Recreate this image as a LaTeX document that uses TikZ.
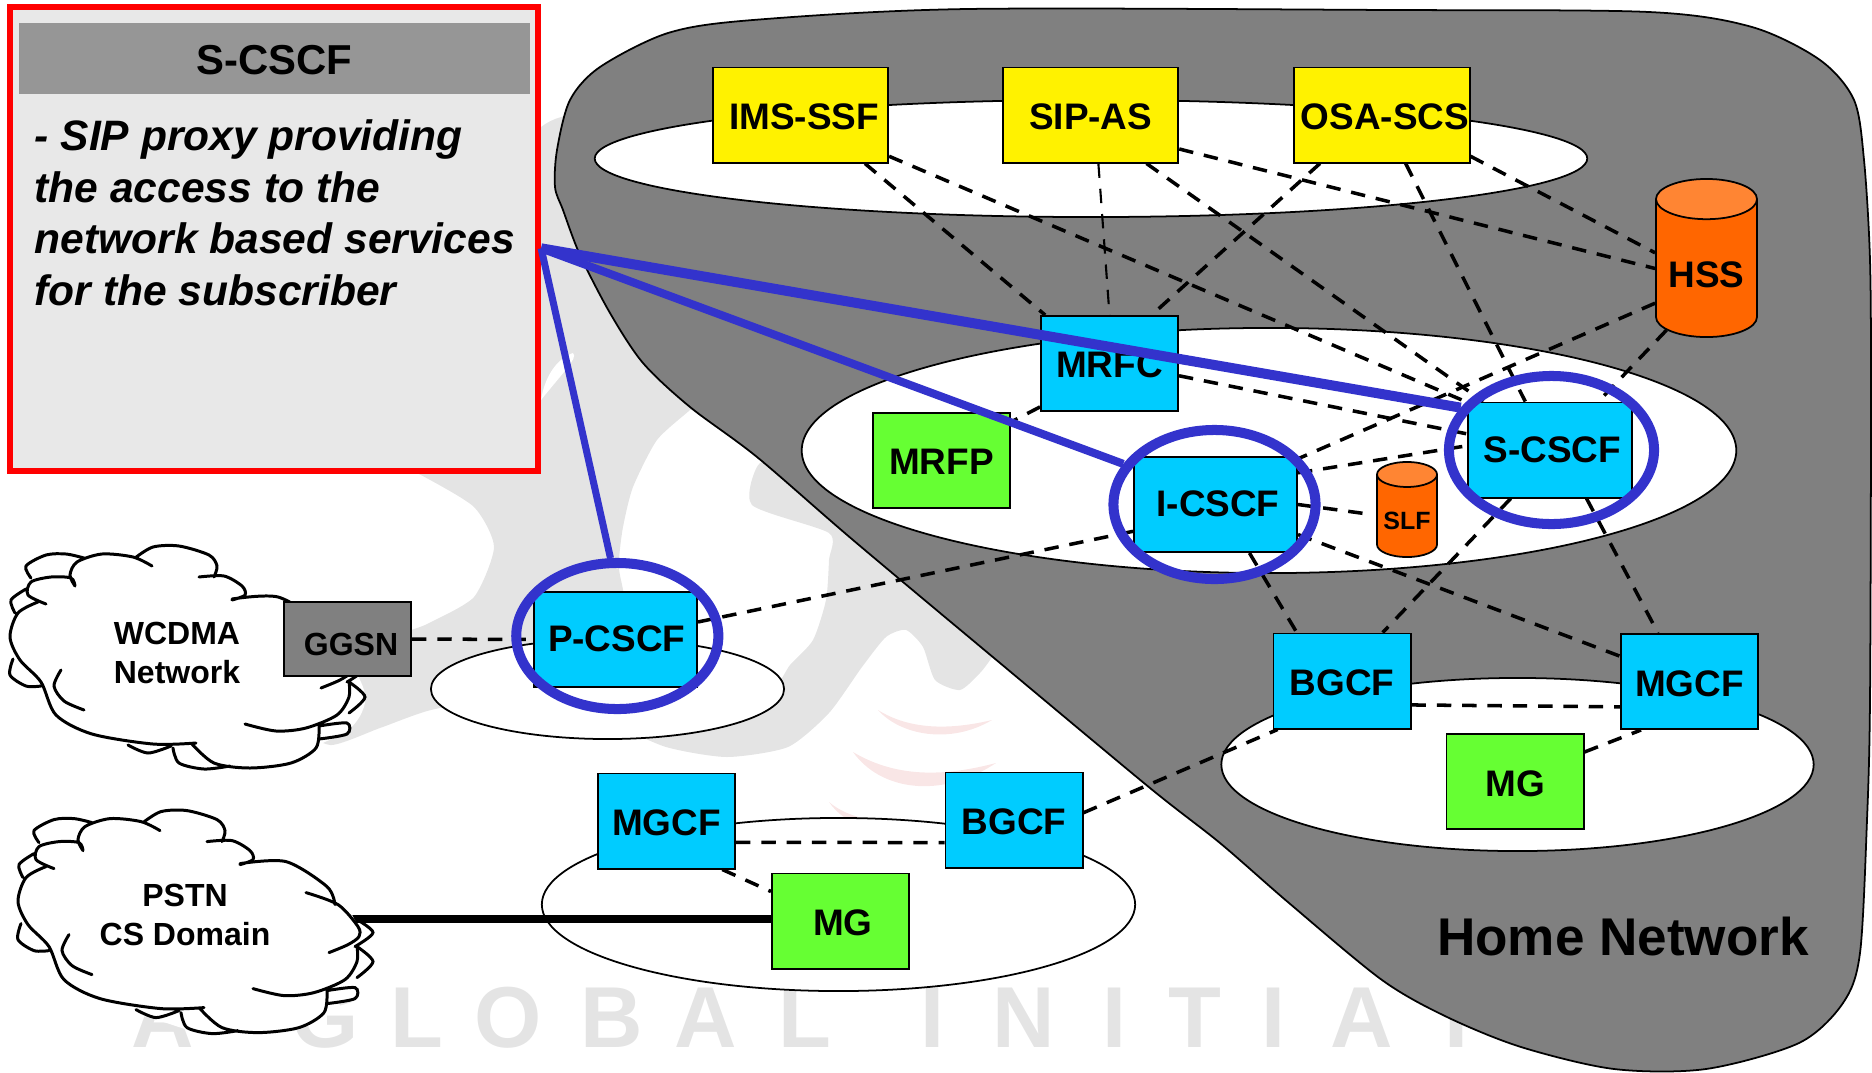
\documentclass[tikz,border=0pt]{standalone}
\usepackage{fontspec}
\setmainfont{Liberation Sans}
\usetikzlibrary{shapes.geometric}
\usetikzlibrary{calc}
\definecolor{homegray}{HTML}{808080}
\definecolor{markgray}{HTML}{E4E4E4}
\definecolor{markpink}{HTML}{F9E6E6}
\definecolor{cscfcyan}{HTML}{00CCFF}
\definecolor{mggreen}{HTML}{66FF33}
\definecolor{hssorange}{HTML}{FF6600}
\definecolor{hsstop}{HTML}{FF8533}
\definecolor{ringblue}{HTML}{3333CC}
\definecolor{notegray}{HTML}{E8E8E8}
\definecolor{titlegray}{HTML}{969696}
\tikzset{
	nfbox/.style={draw=black,line width=0.55pt,inner sep=0pt,minimum width=1.37cm,minimum height=0.95cm,text height=8.6pt,font=\fontsize{10.5}{12}\selectfont\bfseries},
	cscfbox/.style={nfbox,fill=cscfcyan},
	widebox/.style={cscfbox,minimum width=1.63cm,text height=7.2pt},
	asbox/.style={nfbox,fill=yellow,minimum width=1.75cm},
	mgbox/.style={nfbox,fill=mggreen},
	netzone/.style={draw=black,line width=0.5pt,fill=white,shape=ellipse,inner sep=0pt},
	ring/.style={draw=ringblue,line width=2.85pt,shape=ellipse,inner sep=0pt,minimum width=2.02cm,minimum height=1.49cm},
	dashline/.style={line width=1pt,dash pattern=on 4.1pt off 3.1pt},
	dbstore/.style={draw=black,line width=0.5pt,shape=cylinder,shape border rotate=90,anchor=shape center,inner sep=0pt,cylinder uses custom fill,cylinder body fill=hssorange,cylinder end fill=hsstop,font=\bfseries},
	cloudtext/.style={align=center,inner sep=0pt,font=\fontsize{9.1}{11}\selectfont\bfseries},
	marktext/.style={text=markgray,inner sep=0pt,font=\fontsize{24.6}{28}\selectfont\bfseries},
	netcloud/.pic={
		\fill[white] plot[smooth cycle,tension=0.6] coordinates {(10,637) (11,600) (26,566) (66,552) (102,552) (153,545) (209,553) (245,590) (286,600) (327,622) (346,654) (364,690) (362,712) (346,732) (319,745) (291,765) (250,770) (204,771) (148,755) (92,736) (41,690) (10,675)};
		\draw[line width=0.85pt,line cap=round]
			plot[smooth] coordinates {(38,602) (18,613) (10,637) (20,660) (41,682) (56,715) (92,734) (153,744) (196,743)}
			plot[smooth] coordinates {(13,659) (10,675) (26,686) (41,686)}
			plot[smooth] coordinates {(61,670) (54,686) (64,701) (84,710)}
			plot[smooth] coordinates {(26,589) (11,600) (15,613)}
			plot[smooth] coordinates {(46,604) (28,595) (31,582) (51,577) (71,578) (75,586)}
			plot[smooth] coordinates {(31,578) (26,566) (46,555) (66,554) (84,558)}
			plot[smooth] coordinates {(75,586) (70,575) (77,562) (102,554) (133,557) (152,566)}
			plot[smooth] coordinates {(135,558) (153,547) (179,546) (209,555) (217,566) (214,577)}
			plot[smooth] coordinates {(199,577) (224,576) (242,586) (245,595) (232,600)}
			plot[smooth] coordinates {(232,599) (278,597) (319,622) (327,640)}
			plot[smooth] coordinates {(298,628) (330,640) (350,662) (351,672) (340,680) (321,688)}
			plot[smooth] coordinates {(349,655) (365,668) (347,682)}
			plot[smooth] coordinates {(349,682) (365,697) (349,713)}
			plot[smooth] coordinates {(349,682) (349,697) (337,715) (306,728) (276,731) (245,724)}
			plot[smooth] coordinates {(319,726) (347,723) (347,734) (319,739)}
			plot[smooth] coordinates {(319,726) (316,748) (291,763) (250,768) (214,763) (191,743)}
			plot[smooth] coordinates {(173,748) (179,763) (204,769) (230,766)}
			plot[smooth] coordinates {(128,745) (148,753) (171,746)};
	}
}

\begin{document}
\begin{tikzpicture}[x=0.01cm,y=-0.01cm]
	\useasboundingbox (0,0) rectangle (1872,1072);
	\fill[markgray] plot[smooth cycle,tension=0.4] coordinates {(541,127) (620,127) (700,250) (700,400) (690,410) (657,440) (633,487) (623,527) (619,560) (621,580) (640,650) (700,700) (770,690) (790,665) (813,640) (826,600) (829,560) (829,533) (752,505) (760,463) (800,470) (900,520) (1000,640) (992,657) (980,673) (960,690) (935,680) (923,647) (906,630) (886,637) (862,667) (829,713) (788,747) (727,757) (666,747) (600,720) (500,700) (431,710) (380,728) (330,745) (300,720) (350,650) (411,630) (429,623) (474,597) (494,547) (474,507) (421,475) (380,455) (400,300)};
	\fill[white] (541,400) .. controls (545,375) and (558,358) .. (573,353) .. controls (578,358) and (565,370) .. (541,400);
	\fill[markpink] (878,710) .. controls (900,735) and (950,745) .. (992,720) .. controls (950,730) and (910,730) .. (878,710);
	\fill[markpink] (853,752) .. controls (880,790) and (940,800) .. (996,763) .. controls (950,775) and (900,780) .. (853,752);
	\fill[markpink] (829,802) .. controls (845,825) and (870,830) .. (900,830) .. controls (880,820) and (850,820) .. (829,802);
	\foreach \markch/\markx in {A/163,G/325,L/417,O/508,B/612,A/706,L/805,I/933,N/1024,I/1115,T/1195,I/1274,A/1362,I/1457}
		\node[marktext] (mark\markx) at (\markx,1018) {\markch};
	\draw[line width=0.5pt,fill=homegray] plot[smooth cycle,tension=0.5] coordinates {(555,187) (557,150) (570,100) (600,67) (668,33) (753,20) (967,9) (1393,10) (1649,12) (1752,27) (1820,60) (1854,100) (1864,160) (1870,260) (1871,400) (1870,700) (1867,820) (1860,953) (1843,1003) (1799,1043) (1706,1069) (1614,1069) (1521,1047) (1447,1017) (1382,980) (1289,903) (1220,843) (1150,788) (1000,663) (853,540) (757,457) (690,407) (643,363) (610,313) (580,255) (563,210)};
	\node[netzone,minimum width=9.92cm,minimum height=1.17cm] (aszone) at (1091,158.5) {};
	\node[netzone,minimum width=9.34cm,minimum height=2.45cm] (imszone) at (1269,450.5) {};
	\node[netzone,minimum width=5.92cm,minimum height=1.73cm] (gwzone) at (1517.5,764.5) {};
	\node[netzone,minimum width=5.93cm,minimum height=1.73cm] (pstnzone) at (838.5,904.5) {};
	\node[netzone,minimum width=3.53cm,minimum height=1cm] (visitzone) at (607.5,689) {};
	\coordinate (pstnedge) at (340,918.6);
	\draw[line width=2.3pt] (pstnedge) -- (840.5,918.6);
	\pic at (0,0) {netcloud};
	\pic at (8,264.6) {netcloud};
	\node[cloudtext] (wcdma) at (177,653) {WCDMA\\Network};
	\node[cloudtext] (pstn) at (185,915) {PSTN\\CS Domain};
	\node[asbox] (imsssf) at (800.6,115) {\hspace*{2pt}IMS-SSF};
	\node[asbox] (sipas) at (1090.7,115) {SIP-AS};
	\node[asbox] (osascs) at (1382,115) {\hspace*{1.6pt}OSA-SCS};
	\node[cscfbox,text height=8pt] (mrfc) at (1109.5,363.5) {MRFC};
	\node[mgbox,text height=8pt,fill=mggreen] (mrfp) at (941.5,460.5) {MRFP};
	\node[widebox] (icscf) at (1215.5,504.5) {\hspace*{1.4pt}I-CSCF};
	\node[widebox] (scscf) at (1550,450) {\hspace*{1.4pt}S-CSCF};
	\node[widebox] (pcscf) at (615.5,639.5) {\hspace*{0.7pt}P-CSCF};
	\node[cscfbox] (bgcfhome) at (1342,681) {BGCF};
	\node[cscfbox] (mgcfhome) at (1689.5,681.5) {MGCF};
	\node[mgbox] (mghome) at (1515,781.5) {MG};
	\node[cscfbox] (mgcfpstn) at (666.5,821) {MGCF};
	\node[cscfbox] (bgcfpstn) at (1014,820) {BGCF};
	\node[mgbox] (mgpstn) at (840.5,921) {\hspace*{1.4pt}MG};
	\node[dbstore,minimum width=1.01cm,minimum height=1.58cm,shape aspect=0.53,text height=10.9pt,font=\fontsize{10.5}{12}\selectfont\bfseries] (hss) at (1706.5,258) {HSS};
	\node[dbstore,minimum width=0.6cm,minimum height=0.95cm,shape aspect=0.53,text height=7.8pt,font=\fontsize{7.1}{8}\selectfont\bfseries] (slf) at (1407,509.5) {SLF};
	\node[draw=black,line width=0.55pt,fill=homegray,inner sep=0pt,minimum width=1.27cm,minimum height=0.74cm,text height=9.2pt,font=\fontsize{9.1}{11}\selectfont\bfseries] (ggsn) at (347.5,639) {\hspace*{2pt}GGSN};
	\draw[dashline] (imsssf.-37.7) -- (mrfc.143.6);
	\draw[dashline] (imsssf.-25.5) -- (scscf.150.7);
	\draw[dashline,line width=0.6pt] (sipas.-81) -- (mrfc.90);
	\draw[dashline] (sipas.-41.6) -- (scscf.144);
	\draw[dashline] (sipas.-21.6) -- (hss.180);
	\draw[dashline] (osascs.-142.5) -- (mrfc.49.5);
	\draw[dashline] (osascs.-64.9) -- (scscf.117.5);
	\draw[dashline] (osascs.-25.9) -- (hss.163);
	\draw[dashline] (hss.-146) -- (icscf.29.7);
	\draw[dashline] (hss.-123.4) -- (scscf.45.6);
	\draw[dashline] (mrfc.-10.3) -- (scscf.169.6);
	\draw[dashline] (mrfc.-148.8) -- (mrfp.29.3);
	\draw[dashline] (icscf.21.1) -- (scscf.177.2);
	\draw[dashline,shorten >=3pt] (icscf.0) -- (slf.178);
	\draw[dashline] (icscf.-162.6) -- (pcscf.12.8);
	\draw[dashline] (icscf.-55.6) -- (bgcfhome.133.8);
	\draw[dashline] (icscf.-20.5) -- (mgcfhome.160.4);
	\draw[dashline] (scscf.-129) -- (bgcfhome.50.2);
	\draw[dashline] (scscf.-53.1) -- (mgcfhome.123.1);
	\draw[dashline,shorten >=2pt] (ggsn.east) -- (pcscf.west);
	\draw[dashline] (mgcfpstn.-17) -- (bgcfpstn.-162.3);
	\draw[dashline] (mgcfpstn.-41.8) -- (mgpstn.157);
	\draw[dashline] (bgcfpstn.6.6) -- (bgcfhome.-143.6);
	\draw[dashline] (bgcfhome.-19.9) -- (mgcfhome.-160.4);
	\draw[dashline] (mghome.23) -- (mgcfhome.-135.9);
	\node[ring,minimum height=1.46cm] (pring) at (617.3,636) {};
	\node[ring] (iring) at (1214.5,504.5) {};
	\node[ring,minimum width=2.05cm,minimum height=1.48cm] (sring) at (1551.5,450) {};
	\node[draw=red,line width=1.7pt,fill=notegray,inner sep=0pt,minimum width=5.28cm,minimum height=4.64cm] (notebox) at (274,239) {};
	\node[fill=titlegray,inner sep=0pt,minimum width=5.11cm,minimum height=0.71cm,text height=9.4pt,font=\fontsize{11.9}{14}\selectfont\bfseries] (notetitle) at (274.5,58.5) {S-CSCF};
	\node[anchor=north west,align=left,inner sep=0pt,font=\fontsize{12.1}{14.7}\selectfont\bfseries\itshape] (notebody) at (34,119) {- SIP proxy providing\\the access to the\\network based services\\for the subscriber};
	\draw[ringblue,line width=2.85pt] (notebox.-2.8) -- (sring.155.2);
	\draw[ringblue,line width=2.3pt] (notebox.-2.8) -- (iring.156.9);
	\draw[ringblue,line width=2pt] (notebox.-2.8) -- (pring.95.1);
	\node[inner sep=0pt,font=\fontsize{15.1}{18}\selectfont\bfseries] (homelabel) at (1623,937) {Home Network};
\end{tikzpicture}
\end{document}
